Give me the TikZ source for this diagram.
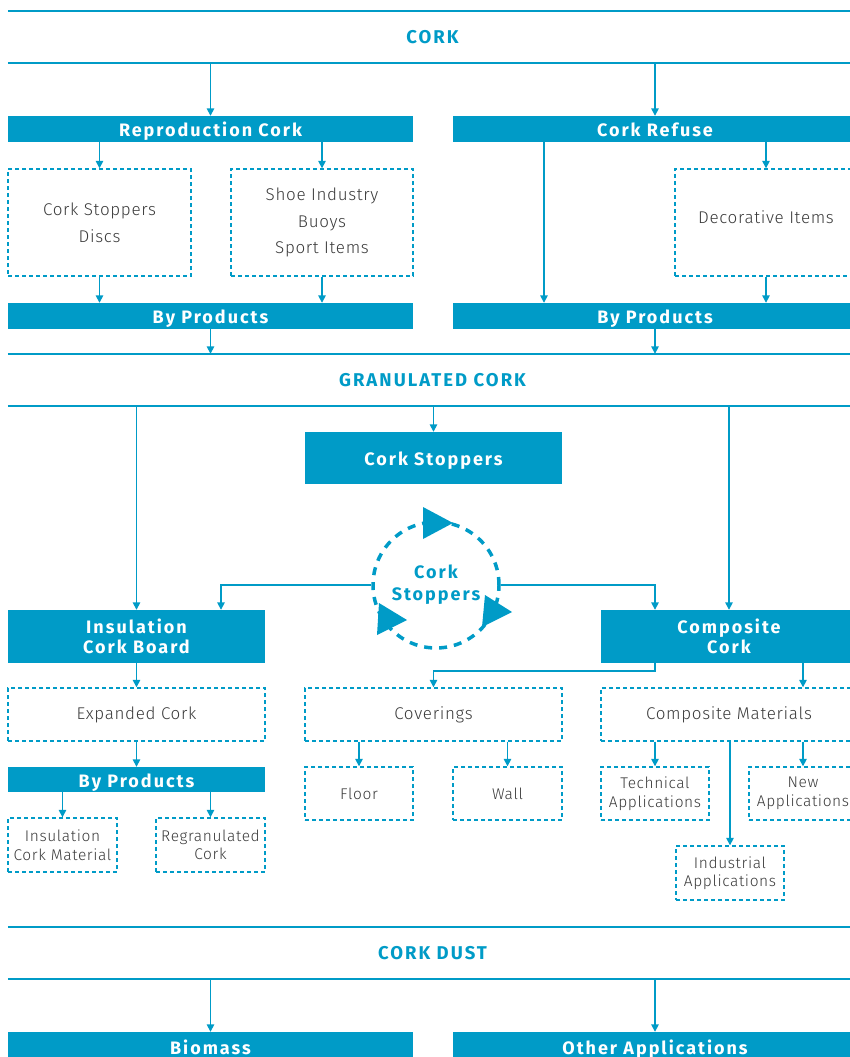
\documentclass[tikz,border=0pt]{standalone}
\usepackage{fontspec}
\setmainfont{Fira Sans}
\newfontfamily\headfont[LetterSpace=11]{Fira Sans}
\IfFontExistsTF{Fira Sans Light}
  {\newfontfamily\boxfont[LetterSpace=4]{Fira Sans Light}}
  {\newfontfamily\boxfont[LetterSpace=4]{Fira Sans}}
\usetikzlibrary{arrows.meta}
\definecolor{corkblue}{HTML}{009BC7}
\definecolor{corkgray}{HTML}{3A3A3A}

\begin{document}
\begin{tikzpicture}[
    x=1pt, y=-1pt,
    bar/.style={fill=corkblue, text=white, inner sep=0pt, align=center,
        font=\headfont\bfseries\fontsize{18}{20}\selectfont},
    lbar/.style={bar, text height=15pt, text depth=0pt},
    band/.style={minimum width=849pt, minimum height=52pt, inner sep=0pt,
        text=corkblue, font=\headfont\bfseries\fontsize{18.5}{20}\selectfont},
    dbox/.style={draw=corkblue, line width=1.4pt, dash pattern=on 4pt off 3pt,
        inner sep=0pt, text=corkgray, align=center, font=\boxfont\fontsize{17}{27}\selectfont},
    sbox/.style={dbox, font=\boxfont\fontsize{15.5}{18.5}\selectfont},
    arr/.style={draw=corkblue, line width=1.5pt, -{Triangle[length=7.5pt,width=7.5pt]}},
    rule/.style={draw=corkblue, line width=2pt}
    ]
  \useasboundingbox (0,0) rectangle (849,1057);

  % cork
  \node[band] (cork) at (432.5,37) {CORK};
  \draw[rule] (cork.north west) -- (cork.north east) (cork.south west) -- (cork.south east);
  \node[lbar, minimum width=405pt, minimum height=26pt] (repro) at (210.5,129) {Reproduction Cork};
  \node[lbar, minimum width=404pt, minimum height=26pt] (refuse) at (655,129) {Cork Refuse};
  \node[dbox, minimum width=183pt, minimum height=107pt] (discs) at (99.5,222.5) {Cork Stoppers\\Discs};
  \node[dbox, minimum width=182pt, minimum height=107pt, font=\boxfont\fontsize{17}{26.5}\selectfont]
      (shoe) at (322,222.5) {Shoe Industry\\Buoys\\Sport Items};
  \node[dbox, minimum width=182pt, minimum height=107pt, text height=12.5pt, text depth=11.5pt]
      (deco) at (766,222.5) {Decorative Items};
  \node[lbar, minimum width=405pt, minimum height=26pt] (byp1) at (210.5,316) {By Products};
  \node[lbar, minimum width=404pt, minimum height=26pt] (byp2) at (655,316) {By Products};
  \coordinate (rfx) at (544,142);

  \draw[arr] (repro.north |- cork.south) -- (repro.north);
  \draw[arr] (refuse.north |- cork.south) -- (refuse.north);
  \draw[arr] (discs.north |- repro.south) -- (discs.north);
  \draw[arr] (shoe.north |- repro.south) -- (shoe.north);
  \draw[arr] (deco.north |- refuse.south) -- (deco.north);
  \draw[arr] (rfx) -- (rfx |- byp2.north);
  \draw[arr] (discs.south) -- (discs.south |- byp1.north);
  \draw[arr] (shoe.south) -- (shoe.south |- byp1.north);
  \draw[arr] (deco.south) -- (deco.south |- byp2.north);

  % granulated cork
  \node[band] (gran) at (432.5,380) {GRANULATED CORK};
  \draw[rule] (gran.north west) -- (gran.north east) (gran.south west) -- (gran.south east);
  \draw[arr] (byp1.south) -- (byp1.south |- gran.north);
  \draw[arr] (byp2.south) -- (byp2.south |- gran.north);

  \node[lbar, minimum width=257pt, minimum height=52pt] (stoppers) at (433.5,458) {Cork Stoppers};
  \node[circle, draw=corkblue, line width=3.5pt, dash pattern=on 8pt off 7pt, minimum size=126pt,
      inner sep=0pt, align=center, text=corkblue, font=\headfont\bfseries\fontsize{18}{22}\selectfont]
      (cycle) at (436,585) {Cork\\Stoppers};
  \fill[corkblue] (423,507) -- (423,539) -- (453,523) -- cycle;
  \fill[corkblue] (485,595) -- (482,627) -- (512,612) -- cycle;
  \fill[corkblue] (379,603) -- (377,635) -- (407,620) -- cycle;

  \node[bar, minimum width=257pt, minimum height=53pt] (insul) at (136.5,636.5) {Insulation\\Cork Board};
  \node[bar, minimum width=256pt, minimum height=53pt] (compo) at (729,636.5) {Composite\\Cork};
  \coordinate (lx) at (221,0);

  \draw[arr] (insul.north |- gran.south) -- (insul.north);
  \draw[arr] (stoppers.north |- gran.south) -- (stoppers.north);
  \draw[arr] (compo.north |- gran.south) -- (compo.north);
  \draw[arr] (cycle.west) -| (lx |- insul.north);
  \draw[arr] (cycle.east) -| (refuse.north |- compo.north);

  \node[dbox, minimum width=257pt, minimum height=53pt] (expanded) at (136.5,714.5) {Expanded Cork};
  \node[dbox, minimum width=257pt, minimum height=53pt] (cover) at (433.5,714.5) {Coverings};
  \node[dbox, minimum width=256pt, minimum height=53pt] (compmat) at (729,714.5) {Composite Materials};
  \node[lbar, minimum width=257pt, minimum height=25pt] (byp3) at (136.5,779.5) {By Products};
  \node[sbox, minimum width=108pt, minimum height=53pt] (floor) at (359,793.5) {Floor};
  \node[sbox, minimum width=109pt, minimum height=53pt] (wall) at (507.5,793.5) {Wall};
  \node[sbox, minimum width=108pt, minimum height=53pt] (tech) at (655,793.5) {Technical\\Applications};
  \node[sbox, minimum width=108pt, minimum height=53pt] (newapp) at (803,793.5) {New\\Applications};
  \node[sbox, minimum width=109pt, minimum height=54pt] (insmat) at (62.5,845) {Insulation\\Cork Material};
  \node[sbox, minimum width=109pt, minimum height=54pt] (regran) at (210.5,845) {Regranulated\\Cork};
  \node[sbox, minimum width=108pt, minimum height=54pt] (indus) at (730,873) {Industrial\\Applications};

  \draw[arr] (insul.south) -- (expanded.north);
  \draw[arr] (expanded.south) -- (byp3.north);
  \draw[arr] (insmat.north |- byp3.south) -- (insmat.north);
  \draw[arr] (regran.north |- byp3.south) -- (regran.north);
  \draw[arr] (compo.south -| refuse.north) -- ++(0,8) -| (cover.north);
  \draw[arr] (newapp.north |- compo.south) -- (newapp.north |- compmat.north);
  \draw[arr] (floor.north |- cover.south) -- (floor.north);
  \draw[arr] (wall.north |- cover.south) -- (wall.north);
  \draw[arr] (tech.north |- compmat.south) -- (tech.north);
  \draw[arr] (newapp.north |- compmat.south) -- (newapp.north);
  \draw[arr] (indus.north |- compmat.south) -- (indus.north);

  % cork dust
  \node[band] (dust) at (432.5,953) {CORK DUST};
  \draw[rule] (dust.north west) -- (dust.north east) (dust.south west) -- (dust.south east);
  \node[lbar, minimum width=405pt, minimum height=30pt] (biomass) at (210.5,1047) {Biomass};
  \node[lbar, minimum width=404pt, minimum height=30pt] (other) at (655,1047) {Other Applications};
  \draw[arr] (biomass.north |- dust.south) -- (biomass.north);
  \draw[arr] (other.north |- dust.south) -- (other.north);
\end{tikzpicture}
\end{document}
